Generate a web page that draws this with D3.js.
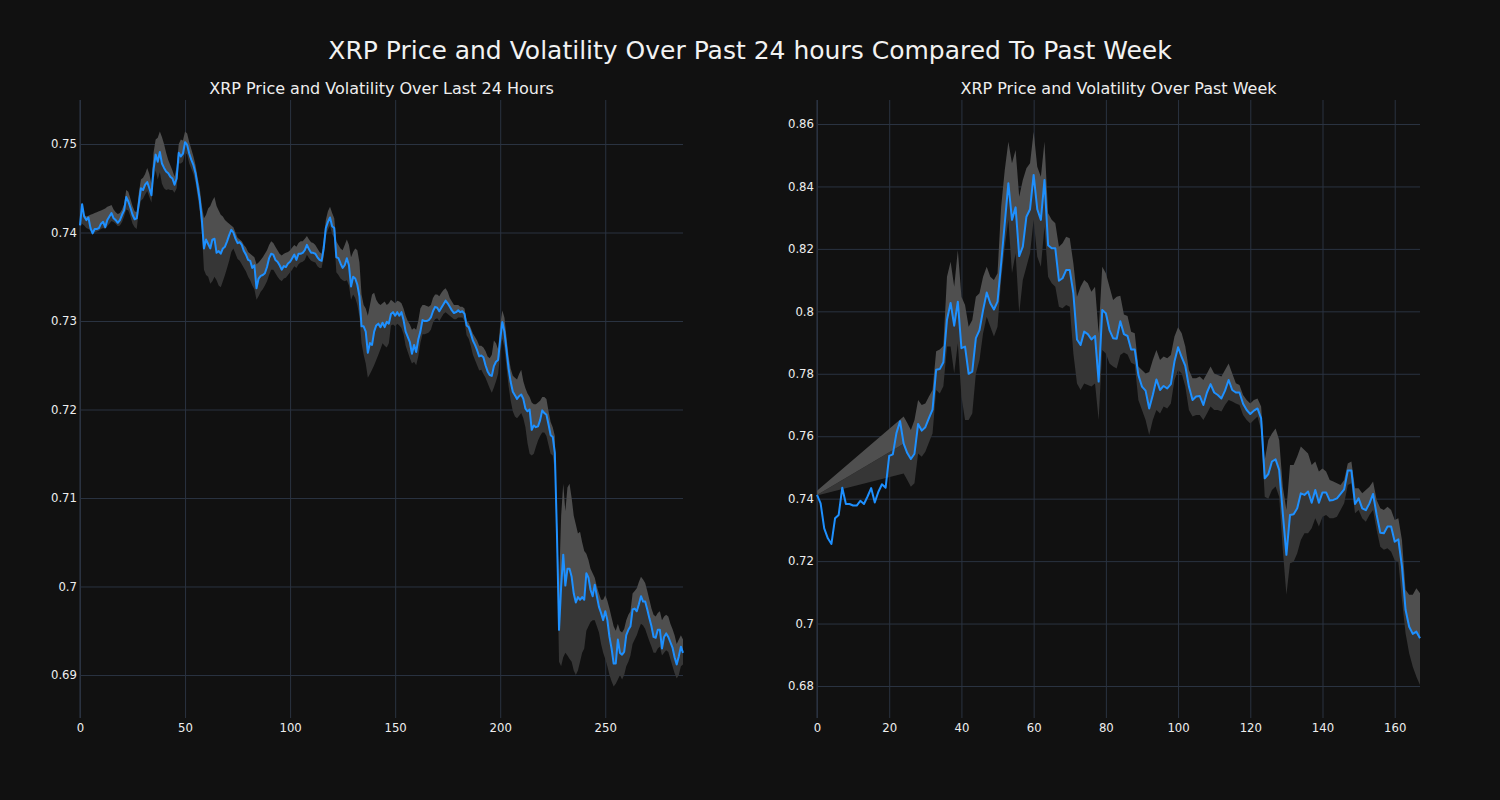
<!DOCTYPE html>
<html>
<head>
<meta charset="utf-8">
<script src="https://cdn.jsdelivr.net/npm/d3@7"></script>
<style>
  html, body { margin: 0; padding: 0; background: #111111; }
  svg { display: block; }
  text { font-family: "DejaVu Sans", sans-serif; }
</style>
</head>
<body>
<svg id="chart" width="1500" height="800"></svg>
<script>
// ---------------- DATA ----------------
const mainTitle = "XRP Price and Volatility Over Past 24 hours Compared To Past Week";
const dayTitle = "XRP Price and Volatility Over Last 24 Hours";
const weekTitle = "XRP Price and Volatility Over Past Week";

const dayXTicks = [0, 50, 100, 150, 200, 250];
const dayYTicks = [0.69, 0.70, 0.71, 0.72, 0.73, 0.74, 0.75];
const dayYTickLabels = ["0.69", "0.7", "0.71", "0.72", "0.73", "0.74", "0.75"];
const weekXTicks = [0, 20, 40, 60, 80, 100, 120, 140, 160];
const weekYTicks = [0.68, 0.70, 0.72, 0.74, 0.76, 0.78, 0.80, 0.82, 0.84, 0.86];
const weekYTickLabels = ["0.68", "0.7", "0.72", "0.74", "0.76", "0.78", "0.8", "0.82", "0.84", "0.86"];

const dayPrice = [
0.7408,0.7432,0.7418,0.7414,0.7417,0.7405,0.7399,0.7404,0.7404,0.7405,
0.7410,0.7412,0.7406,0.7414,0.7418,0.7422,0.7416,0.7414,0.7411,0.7414,
0.7420,0.7425,0.7440,0.7435,0.7428,0.7420,0.7415,0.7416,0.7433,0.7450,
0.7448,0.7454,0.7457,0.7450,0.7442,0.7471,0.7488,0.7480,0.7491,0.7478,
0.7473,0.7469,0.7467,0.7463,0.7461,0.7454,0.7461,0.7490,0.7486,0.7489,
0.7502,0.7499,0.7489,0.7482,0.7476,0.7467,0.7452,0.7437,0.7414,0.7382,
0.7392,0.7387,0.7382,0.7392,0.7393,0.7377,0.7379,0.7376,0.7382,0.7384,
0.7390,0.7397,0.7403,0.7400,0.7393,0.7388,0.7389,0.7386,0.7379,0.7375,
0.7369,0.7368,0.7360,0.7363,0.7337,0.7348,0.7351,0.7352,0.7354,0.7361,
0.7371,0.7376,0.7375,0.7369,0.7367,0.7363,0.7358,0.7362,0.7361,0.7365,
0.7367,0.7371,0.7375,0.7369,0.7376,0.7376,0.7377,0.7380,0.7386,0.7381,
0.7377,0.7377,0.7376,0.7372,0.7369,0.7368,0.7382,0.7405,0.7412,0.7417,
0.7407,0.7405,0.7372,0.7371,0.7365,0.7360,0.7363,0.7371,0.7363,0.7339,
0.7350,0.7348,0.7341,0.7328,0.7294,0.7294,0.7288,0.7264,0.7275,0.7273,
0.7288,0.7295,0.7297,0.7293,0.7298,0.7293,0.7299,0.7297,0.7308,0.7310,
0.7306,0.7310,0.7306,0.7310,0.7301,0.7288,0.7282,0.7276,0.7263,0.7273,
0.7265,0.7279,0.7288,0.7301,0.7300,0.7300,0.7301,0.7304,0.7311,0.7316,
0.7315,0.7311,0.7315,0.7319,0.7323,0.7320,0.7316,0.7312,0.7309,0.7310,
0.7312,0.7310,0.7311,0.7308,0.7295,0.7293,0.7286,0.7278,0.7273,0.7267,
0.7260,0.7261,0.7259,0.7250,0.7243,0.7239,0.7238,0.7249,0.7254,0.7256,
0.7279,0.7299,0.7288,0.7267,0.7246,0.7231,0.7220,0.7216,0.7212,0.7215,
0.7217,0.7212,0.7201,0.7198,0.7200,0.7177,0.7182,0.7180,0.7181,0.7188,
0.7199,0.7196,0.7194,0.7183,0.7171,0.7169,0.7151,0.7060,0.6951,0.7000,
0.7036,0.7001,0.7020,0.7020,0.7011,0.6992,0.6982,0.6988,0.6985,0.6988,
0.6985,0.7015,0.7010,0.6996,0.6989,0.7002,0.6989,0.6977,0.6970,0.6962,
0.6972,0.6962,0.6943,0.6930,0.6913,0.6913,0.6940,0.6925,0.6923,0.6926,
0.6945,0.6951,0.6955,0.6974,0.6975,0.6972,0.6980,0.6989,0.6983,0.6983,
0.6974,0.6964,0.6955,0.6943,0.6942,0.6951,0.6951,0.6930,0.6943,0.6947,
0.6943,0.6937,0.6931,0.6920,0.6912,0.6921,0.6932,0.6925
];

const dayUpper = [
0.7410,0.7434,0.7420,0.7418,0.7419,0.7420,0.7421,0.7422,0.7423,0.7424,0.7425,0.7426,0.7427,0.7429,0.7430,0.7431,
0.7426,0.7423,0.7421,0.7422,0.7426,0.7432,
0.7448,0.7446,0.7438,0.7430,0.7424,0.7423,
0.7445,0.7460,0.7462,0.7466,0.7473,0.7466,0.7455,
0.7490,0.7505,0.7507,0.7514,0.7508,0.7500,0.7490,0.7482,0.7476,0.7470,0.7463,0.7474,
0.7500,0.7505,0.7504,0.7514,0.7512,0.7502,0.7494,0.7486,0.7476,0.7462,0.7450,0.7430,
0.7416,0.7420,0.7427,0.7430,0.7436,0.7440,0.7430,0.7425,0.7420,0.7418,0.7414,0.7412,0.7410,0.7408,
0.7406,0.7400,0.7394,0.7392,0.7390,0.7386,0.7383,0.7378,0.7376,0.7374,0.7372,
0.7364,0.7366,0.7369,0.7372,0.7376,0.7380,0.7386,0.7390,0.7388,
0.7384,0.7380,0.7376,0.7374,0.7376,0.7377,0.7378,0.7380,0.7383,0.7386,
0.7384,0.7388,0.7390,0.7390,0.7393,0.7396,0.7392,0.7389,0.7388,0.7386,0.7382,0.7378,0.7376,0.7392,
0.7414,0.7424,0.7429,0.7422,0.7416,
0.7390,0.7386,0.7382,0.7380,0.7386,0.7392,0.7386,0.7372,0.7378,0.7382,0.7380,0.7366,
0.7330,0.7318,0.7314,0.7306,0.7318,0.7330,0.7332,0.7324,0.7320,0.7318,0.7320,
0.7322,0.7318,0.7320,
0.7324,0.7322,0.7320,0.7323,0.7322,0.7320,0.7314,
0.7306,0.7300,0.7296,0.7290,0.7292,0.7290,0.7300,
0.7314,0.7318,0.7318,0.7317,0.7316,0.7318,
0.7326,0.7330,0.7330,0.7328,0.7332,0.7335,0.7337,0.7333,
0.7326,0.7322,0.7318,0.7318,0.7318,0.7316,0.7316,0.7314,
0.7300,0.7298,0.7292,0.7286,0.7282,0.7278,0.7272,
0.7272,0.7270,0.7266,0.7260,0.7258,0.7262,0.7278,0.7275,0.7268,
0.7296,0.7312,0.7304,
0.7282,0.7260,0.7246,0.7238,0.7236,0.7234,0.7240,0.7245,
0.7232,0.7224,0.7218,0.7214,0.7208,
0.7206,0.7206,0.7208,0.7210,0.7214,0.7214,0.7212,
0.7198,0.7186,0.7180,0.7170,
0.7075,0.7000,0.7080,0.7116,0.7085,0.7112,0.7116,0.7100,0.7080,
0.7070,0.7060,0.7062,0.7050,0.7040,0.7037,0.7030,0.7020,0.7015,0.7010,0.7000,0.6992,
0.6985,0.6985,0.6990,0.6984,0.6975,0.6965,0.6955,0.6950,0.6958,
0.6950,0.6948,0.6952,0.6962,0.6968,0.6972,
0.6992,0.6995,0.6998,0.7005,0.7011,0.7008,0.7004,0.6995,
0.6985,0.6975,0.6968,0.6966,0.6970,0.6972,0.6962,0.6966,0.6968,0.6966,
0.6958,0.6952,0.6945,0.6935,0.6940,0.6945,0.6940
];

const dayLower = [
0.7405,0.7410,0.7408,0.7405,0.7404,0.7402,0.7398,0.7400,0.7401,0.7402,0.7404,0.7405,0.7404,0.7407,0.7410,0.7413,
0.7412,0.7410,0.7407,0.7408,0.7412,0.7418,
0.7426,0.7425,0.7418,0.7410,0.7406,0.7404,
0.7425,0.7436,0.7438,0.7443,0.7447,0.7440,0.7434,
0.7460,0.7470,0.7460,0.7468,0.7455,0.7450,0.7448,0.7449,0.7448,0.7448,0.7445,0.7450,
0.7478,0.7478,0.7480,0.7490,0.7488,0.7478,0.7472,0.7466,0.7456,0.7440,0.7424,0.7400,
0.7358,0.7352,0.7350,0.7342,0.7345,0.7350,0.7346,0.7340,0.7338,0.7345,0.7352,0.7360,0.7368,0.7378,
0.7382,0.7376,0.7370,0.7368,0.7364,0.7360,0.7356,0.7350,0.7346,0.7340,0.7336,
0.7324,0.7328,0.7333,0.7336,0.7340,0.7345,0.7352,0.7358,0.7358,
0.7354,0.7350,0.7347,0.7345,0.7348,0.7349,0.7352,0.7355,0.7358,0.7362,
0.7360,0.7364,0.7366,0.7367,0.7369,0.7375,0.7371,0.7368,0.7367,0.7366,0.7362,0.7360,0.7360,0.7372,
0.7396,0.7403,0.7408,0.7398,0.7394,
0.7355,0.7352,0.7348,0.7346,0.7345,0.7346,0.7340,0.7324,0.7330,0.7326,0.7318,0.7305,
0.7275,0.7262,0.7252,0.7236,0.7240,0.7245,0.7250,0.7256,0.7262,0.7268,0.7275,
0.7272,0.7270,0.7275,
0.7295,0.7296,0.7294,0.7297,0.7295,0.7292,0.7285,
0.7272,0.7265,0.7258,0.7252,0.7254,0.7250,0.7260,
0.7275,0.7285,0.7285,0.7286,0.7287,0.7290,
0.7298,0.7302,0.7303,0.7300,0.7304,0.7308,0.7310,0.7308,
0.7306,0.7304,0.7302,0.7302,0.7304,0.7304,0.7304,0.7300,
0.7284,0.7280,0.7272,0.7262,0.7256,0.7250,0.7244,
0.7245,0.7240,0.7236,0.7230,0.7224,0.7219,0.7225,0.7232,0.7240,
0.7262,0.7280,0.7270,
0.7248,0.7226,0.7210,0.7198,0.7192,0.7190,0.7193,0.7196,
0.7190,0.7180,0.7162,0.7150,0.7148,
0.7150,0.7158,0.7165,0.7170,0.7174,0.7174,0.7170,
0.7160,0.7150,0.7148,0.7130,
0.7040,0.6915,0.6910,0.6920,0.6925,0.6922,0.6918,0.6915,0.6905,
0.6900,0.6905,0.6915,0.6925,0.6930,0.6950,0.6955,0.6960,0.6962,0.6962,0.6955,0.6948,
0.6935,0.6925,0.6918,0.6910,0.6900,0.6893,0.6887,0.6890,0.6895,
0.6900,0.6895,0.6900,0.6910,0.6915,0.6922,
0.6935,0.6940,0.6945,0.6952,0.6958,0.6956,0.6952,0.6945,
0.6938,0.6932,0.6925,0.6925,0.6930,0.6932,0.6922,0.6925,0.6928,0.6926,
0.6918,0.6910,0.6902,0.6896,0.6900,0.6910,0.6912
];

const weekPrice = [
0.7412,0.7385,0.7305,0.7273,0.7255,0.7337,0.7348,0.7435,0.7383,0.7383,
0.7378,0.7378,0.7393,0.7383,0.7407,0.7434,0.7388,0.7422,0.7446,0.7435,
0.7537,0.7542,0.7610,0.7648,0.7576,0.7546,0.7527,0.7544,0.7639,0.7618,
0.7629,0.7658,0.7685,0.7813,0.7815,0.7837,0.7973,0.8027,0.7954,0.8031,
0.7882,0.7887,0.7800,0.7807,0.7914,0.7940,0.8004,0.8060,0.8026,0.8006,
0.8031,0.8154,0.8282,0.8410,0.8293,0.8333,0.8177,0.8207,0.8303,0.8327,
0.8437,0.8327,0.8293,0.8421,0.8212,0.8202,0.8202,0.8098,0.8106,0.8132,
0.8132,0.8058,0.7910,0.7892,0.7935,0.7927,0.7910,0.7921,0.7775,0.8004,
0.7994,0.7940,0.7914,0.7912,0.7968,0.7927,0.7921,0.7878,0.7878,0.7796,
0.7759,0.7746,0.7689,0.7732,0.7782,0.7748,0.7761,0.7753,0.7767,0.7839,
0.7885,0.7853,0.7825,0.7759,0.7716,0.7727,0.7729,0.7700,0.7740,0.7767,
0.7740,0.7732,0.7721,0.7746,0.7780,0.7748,0.7740,0.7740,0.7704,0.7684,
0.7671,0.7682,0.7689,0.7657,0.7465,0.7479,0.7519,0.7526,0.7492,0.7353,
0.7220,0.7348,0.7350,0.7369,0.7417,0.7412,0.7423,0.7387,0.7428,0.7387,
0.7420,0.7420,0.7394,0.7396,0.7401,0.7415,0.7430,0.7490,0.7490,0.7383,
0.7401,0.7369,0.7363,0.7385,0.7415,0.7348,0.7291,0.7289,0.7311,0.7311,
0.7262,0.7270,0.7183,0.7044,0.6990,0.6967,0.6974,0.6953
];

// band is missing (null) for the first hours of the week, as in the source
const weekUpper = [
0.7425,
null,null,null,null,null,null,null,null,null,null,null,null,null,null,null,null,null,null,null,null,null,null,null,
0.7663,0.7642,0.7620,0.7652,0.7716,0.7700,0.7705,0.7727,0.7748,
0.7872,0.7878,0.7890,
0.8111,0.8159,0.8079,0.8196,
0.8047,0.8020,0.7951,0.7972,
0.8047,0.8058,0.8111,0.8143,0.8111,0.8100,0.8122,0.8335,0.8453,0.8543,0.8474,0.8517,0.8367,0.8421,0.8458,0.8474,
0.8575,0.8463,0.8431,0.8543,0.8314,0.8293,0.8282,0.8207,0.8218,0.8239,0.8234,0.8154,0.8047,0.8079,0.8100,0.8090,
0.8063,0.8079,0.7930,0.8143,0.8122,0.8079,0.8036,0.8047,0.8050,
0.7990,0.7985,0.7935,0.7930,0.7823,0.7812,0.7801,0.7806,0.7844,0.7876,0.7844,0.7855,0.7850,0.7860,0.7919,0.7949,
0.7930,0.7887,0.7812,0.7786,0.7786,0.7791,0.7780,0.7801,0.7823,0.7801,0.7796,0.7791,0.7812,0.7833,0.7801,0.7770,
0.7764,0.7732,0.7716,0.7705,0.7716,0.7721,0.7695,
0.7524,0.7588,0.7609,0.7625,0.7588,0.7438,0.7364,0.7508,0.7508,0.7535,0.7567,0.7556,0.7545,0.7508,0.7519,0.7487,
0.7497,0.7487,0.7460,0.7455,0.7449,0.7444,0.7460,0.7513,0.7519,0.7433,0.7433,0.7417,0.7428,0.7438,0.7455,0.7396,
0.7369,0.7364,0.7374,0.7364,0.7332,0.7337,0.7268,0.7108,0.7092,0.7092,0.7113,0.7097
];

const weekLower = [
0.7410,
null,null,null,null,null,null,null,null,null,null,null,null,null,null,null,null,null,null,null,null,null,null,null,
0.7481,0.7460,0.7438,0.7449,0.7545,0.7534,0.7550,0.7580,0.7609,
0.7748,0.7737,0.7760,
0.7887,0.7887,0.7801,0.7898,
0.7727,0.7652,0.7652,0.7673,
0.7801,0.7844,0.7930,0.7983,0.7951,0.7919,0.7951,0.8100,0.8207,0.8293,0.8122,0.8186,0.7994,0.8100,0.8143,0.8186,
0.8293,0.8175,0.8143,0.8271,0.8111,0.8090,0.8079,0.8015,0.8010,0.8020,0.8015,0.7865,0.7769,0.7748,0.7769,0.7764,
0.7759,0.7769,0.7652,0.7876,0.7865,0.7833,0.7823,0.7817,0.7860,
0.7868,0.7862,0.7835,0.7830,0.7716,0.7684,0.7652,0.7604,0.7652,0.7684,0.7673,0.7695,0.7689,0.7705,0.7780,0.7812,
0.7801,0.7759,0.7684,0.7663,0.7668,0.7668,0.7652,0.7673,0.7695,0.7684,0.7684,0.7679,0.7700,0.7716,0.7711,0.7705,
0.7700,0.7668,0.7652,0.7641,0.7652,0.7663,0.7620,
0.7406,0.7400,0.7428,0.7439,0.7406,0.7236,0.7092,0.7193,0.7198,0.7225,0.7268,0.7289,0.7289,0.7305,0.7337,0.7311,
0.7342,0.7348,0.7337,0.7337,0.7342,0.7364,0.7385,0.7444,0.7449,0.7353,0.7364,0.7337,0.7326,0.7348,0.7364,0.7300,
0.7246,0.7236,0.7241,0.7230,0.7203,0.7198,0.7076,0.6969,0.6905,0.6862,0.6830,0.6803
];

// ---------------- DRAWING ----------------
const svg = d3.select("#chart");
const W = 1500, H = 800;
svg.append("rect").attr("width", W).attr("height", H).attr("fill", "#111111");

const GRID = "#2a3341";
const TEXT = "#eeeeee";
const LINE = "#1e90ff";
const BAND_LIGHT = "#4f4f4f";
const BAND_DARK = "#363636";

svg.append("text")
  .attr("x", 750).attr("y", 59)
  .attr("text-anchor", "middle")
  .attr("fill", "#f2f2f2")
  .attr("font-size", "25px")
  .text(mainTitle);

function panel(cfg) {
  const { x0, x1, y0, y1, xDomain, yDomain, price, upper, lower,
          xTicks, yTicks, yLabels, title } = cfg;
  const x = d3.scaleLinear().domain(xDomain).range([x0, x1]);
  const y = d3.scaleLinear().domain(yDomain).range([y1, y0]);
  const g = svg.append("g");

  // grid
  const gx = g.append("g").attr("transform", `translate(0,${y1})`)
    .call(d3.axisBottom(x).tickValues(xTicks).tickSize(-(y1 - y0)).tickFormat(""));
  gx.select(".domain").remove();
  gx.selectAll(".tick line").attr("stroke", GRID).attr("stroke-width", 1);
  const gy = g.append("g").attr("transform", `translate(${x0},0)`)
    .call(d3.axisLeft(y).tickValues(yTicks).tickSize(-(x1 - x0)).tickFormat(""));
  gy.select(".domain").remove();
  gy.selectAll(".tick line").attr("stroke", GRID).attr("stroke-width", 1);

  // left spine
  g.append("line").attr("x1", x0).attr("x2", x0).attr("y1", y0).attr("y2", y1)
    .attr("stroke", GRID).attr("stroke-width", 1.2);

  // volatility band (points where band exists; missing ones are skipped)
  const idx = d3.range(price.length).filter(i => upper[i] != null && lower[i] != null);
  const darkArea = d3.area().x(i => x(i)).y0(i => y(lower[i])).y1(i => y(price[i]));
  const lightArea = d3.area().x(i => x(i)).y0(i => y(price[i])).y1(i => y(upper[i]));
  g.append("path").datum(idx).attr("d", darkArea).attr("fill", BAND_DARK);
  g.append("path").datum(idx).attr("d", lightArea).attr("fill", BAND_LIGHT);

  // price line
  const line = d3.line().x((d, i) => x(i)).y(d => y(d));
  g.append("path").datum(price).attr("d", line)
    .attr("fill", "none").attr("stroke", LINE).attr("stroke-width", 2)
    .attr("stroke-linejoin", "round");

  // tick labels
  const ax = g.append("g").attr("transform", `translate(0,${y1})`)
    .call(d3.axisBottom(x).tickValues(xTicks).tickSize(0).tickPadding(6).tickFormat(d3.format("d")));
  ax.select(".domain").remove();
  ax.selectAll("text").attr("fill", TEXT).attr("font-size", "11.7px")
    .attr("font-family", "DejaVu Sans, sans-serif");
  const ay = g.append("g").attr("transform", `translate(${x0},0)`)
    .call(d3.axisLeft(y).tickValues(yTicks).tickSize(0).tickPadding(3)
      .tickFormat((d, i) => yLabels[i]));
  ay.select(".domain").remove();
  ay.selectAll("text").attr("fill", TEXT).attr("font-size", "11.7px")
    .attr("font-family", "DejaVu Sans, sans-serif");

  g.append("text")
    .attr("x", (x0 + x1) / 2).attr("y", 94)
    .attr("text-anchor", "middle")
    .attr("fill", TEXT)
    .attr("font-size", "16px")
    .text(title);
}

panel({
  x0: 80, x1: 683, y0: 100, y1: 718,
  xDomain: [0, 287], yDomain: [0.685141, 0.754972],
  price: dayPrice, upper: dayUpper, lower: dayLower,
  xTicks: dayXTicks, yTicks: dayYTicks, yLabels: dayYTickLabels,
  title: dayTitle
});

panel({
  x0: 817, x1: 1420, y0: 100, y1: 718,
  xDomain: [0, 167], yDomain: [0.669751, 0.867687],
  price: weekPrice, upper: weekUpper, lower: weekLower,
  xTicks: weekXTicks, yTicks: weekYTicks, yLabels: weekYTickLabels,
  title: weekTitle
});
</script>
</body>
</html>
